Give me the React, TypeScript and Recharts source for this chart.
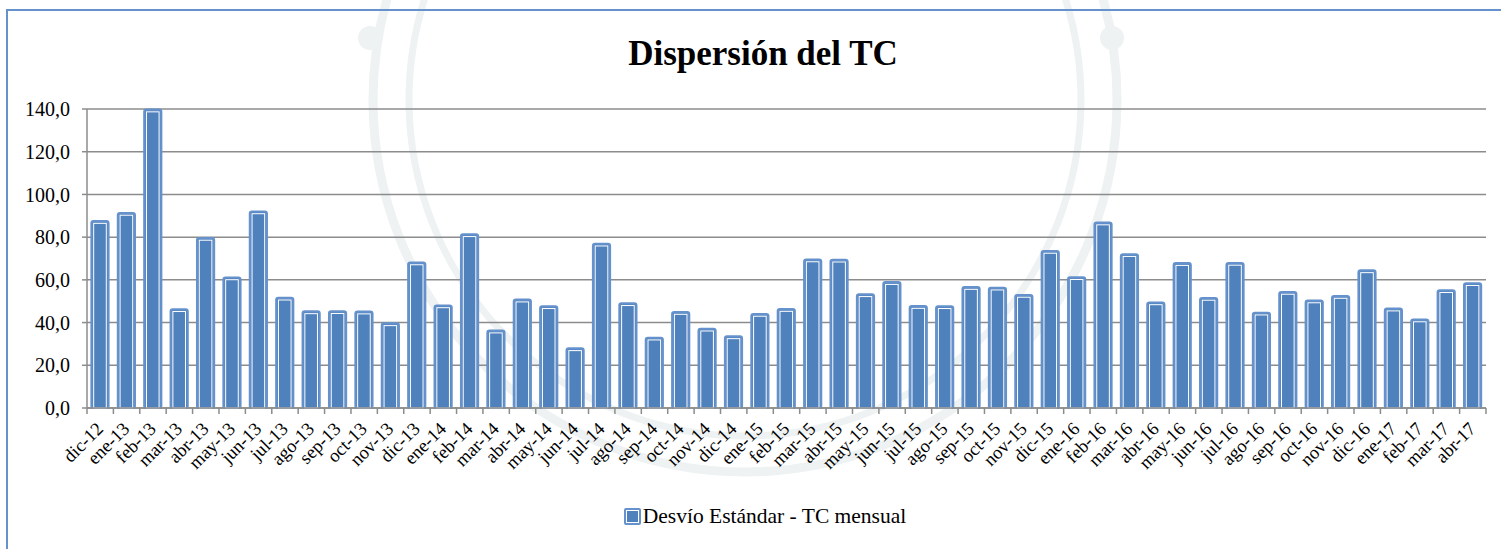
import { BarChart, Bar, XAxis, YAxis, CartesianGrid } from 'recharts';

const months = [
  'dic-12',
  'ene-13', 'feb-13', 'mar-13', 'abr-13', 'may-13', 'jun-13', 'jul-13', 'ago-13', 'sep-13', 'oct-13', 'nov-13', 'dic-13',
  'ene-14', 'feb-14', 'mar-14', 'abr-14', 'may-14', 'jun-14', 'jul-14', 'ago-14', 'sep-14', 'oct-14', 'nov-14', 'dic-14',
  'ene-15', 'feb-15', 'mar-15', 'abr-15', 'may-15', 'jun-15', 'jul-15', 'ago-15', 'sep-15', 'oct-15', 'nov-15', 'dic-15',
  'ene-16', 'feb-16', 'mar-16', 'abr-16', 'may-16', 'jun-16', 'jul-16', 'ago-16', 'sep-16', 'oct-16', 'nov-16', 'dic-16',
  'ene-17', 'feb-17', 'mar-17', 'abr-17',
];

const desvio = [
  87.5,
  91.3, 139.7, 46.2, 79.6, 61.1, 92.0, 51.6, 45.2, 45.3, 45.1, 39.6, 68.1,
  48.0, 81.3, 36.2, 50.7, 47.6, 27.9, 76.9, 49.0, 32.9, 44.9, 37.1, 33.5,
  44.0, 46.3, 69.5, 69.4, 53.2, 58.9, 47.7, 47.6, 56.6, 56.3, 52.9, 73.5,
  61.2, 86.8, 72.0, 49.4, 67.8, 51.5, 67.9, 44.6, 54.3, 50.3, 52.4, 64.4,
  46.5, 41.4, 55.1, 58.4,
];

const yTicks = [0, 20, 40, 60, 80, 100, 120, 140];

const data = months.map((m, i) => ({ mes: m, desvio: desvio[i] }));

const W = 1501;
const H = 549;
const PLOT_LEFT = 87;
const PLOT_RIGHT = 1486;
const BAND = (PLOT_RIGHT - PLOT_LEFT) / months.length;
const SERIF = 'Liberation Serif, DejaVu Serif, serif';
const BLUE = '#4F81BD';
const EDGE = '#6592CC';
const GRID = '#8C8C8C';

function BarShape(props: any) {
  const { x, y, width, height } = props;
  if (!height || height <= 0) return null;
  return (
    <g>
      <rect x={x} y={y} width={width} height={height} rx={2} fill={BLUE} stroke={EDGE} strokeWidth={2.2} />
      <rect x={x + 2.2} y={y + 2.2} width={width - 4.4} height={height - 2.2} fill="none" stroke="#ffffff" strokeWidth={1} />
    </g>
  );
}

function MonthTick(props: any) {
  const { x, y, payload, index } = props;
  const ax = y - 8;
  return (
    <g>
      <line x1={x + BAND / 2} y1={ax} x2={x + BAND / 2} y2={ax + 6} stroke={GRID} strokeWidth={1.5} />
      {index === 0 && <line x1={x - BAND / 2} y1={ax} x2={x - BAND / 2} y2={ax + 6} stroke={GRID} strokeWidth={1.5} />}
      <text
        x={x + 4}
        y={y + 14}
        transform={`rotate(-45, ${x + 4}, ${y + 14})`}
        textAnchor="end"
        style={{ fontFamily: SERIF }}
        fontSize={18.5}
        fill="#000"
      >
        {payload.value}
      </text>
    </g>
  );
}

// faint seal in the background
function Watermark() {
  return (
    <svg width={W} height={H} style={{ position: 'absolute', left: 0, top: 0 }}>
      <g fill="none" stroke="#EEF2F2">
        <circle cx={745} cy={100} r={372} strokeWidth={9} />
        <circle cx={745} cy={100} r={336} strokeWidth={7} />
      </g>
      <circle cx={370} cy={38} r={12} fill="#EEF2F2" />
      <circle cx={1112} cy={38} r={12} fill="#EEF2F2" />
    </svg>
  );
}

export default function App() {
  return (
    <div style={{ position: 'absolute', left: 0, top: 0, width: W, height: H, background: '#fff', overflow: 'hidden' }}>
      <Watermark />
      <div
        style={{
          position: 'absolute',
          left: 6,
          top: 9,
          width: W,
          height: H,
          borderLeft: `2px solid ${EDGE}`,
          borderTop: `2px solid ${EDGE}`,
        }}
      />
      <div
        style={{
          position: 'absolute',
          left: 0,
          top: 34,
          width: 1526,
          textAlign: 'center',
          fontFamily: SERIF,
          fontSize: 35,
          fontWeight: 'bold',
          color: '#000',
        }}
      >
        Dispersión del TC
      </div>
      <BarChart
        width={W}
        height={H}
        data={data}
        margin={{ top: 109, right: W - PLOT_RIGHT, bottom: 61, left: 7 }}
        barCategoryGap="17%"
        style={{ position: 'absolute', left: 0, top: 0 }}
      >
        <CartesianGrid vertical={false} stroke={GRID} strokeWidth={1.5} />
        <XAxis
          dataKey="mes"
          interval={0}
          height={80}
          tickLine={false}
          axisLine={{ stroke: GRID, strokeWidth: 1.5 }}
          tick={<MonthTick />}
        />
        <YAxis
          width={80}
          domain={[0, 140]}
          ticks={yTicks}
          interval={0}
          tickFormatter={(v: number) => v.toFixed(1).replace('.', ',')}
          tickSize={5}
          tickMargin={12}
          tickLine={{ stroke: GRID, strokeWidth: 1.5 }}
          axisLine={{ stroke: GRID, strokeWidth: 1.5 }}
          tick={{ style: { fontFamily: SERIF }, fontSize: 20, fill: '#000' }}
        />
        <Bar dataKey="desvio" shape={<BarShape />} isAnimationActive={false} />
      </BarChart>
      <div
        style={{
          position: 'absolute',
          left: 0,
          top: 504,
          width: 1530,
          display: 'flex',
          justifyContent: 'center',
          alignItems: 'center',
          fontFamily: SERIF,
          fontSize: 21.5,
          color: '#000',
        }}
      >
        <span
          style={{
            display: 'inline-block',
            width: 13,
            height: 13,
            background: BLUE,
            border: `2px solid ${EDGE}`,
            outline: '1px solid #fff',
            outlineOffset: -3,
            borderRadius: 2,
            marginRight: 2,
          }}
        />
        Desvío Estándar - TC mensual
      </div>
    </div>
  );
}
